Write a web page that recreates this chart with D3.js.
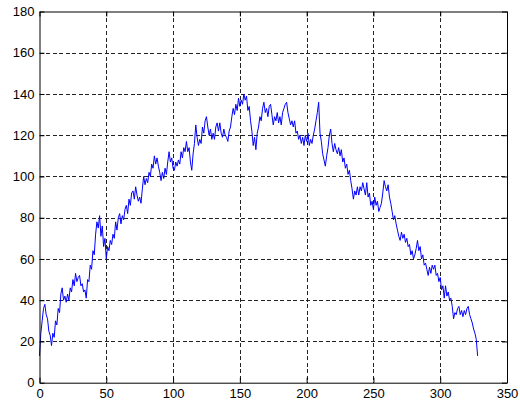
<!DOCTYPE html>
<html>
<head>
<meta charset="utf-8">
<script src="https://cdn.jsdelivr.net/npm/d3@7"></script>
<style>
  html, body { margin: 0; padding: 0; background: #ffffff; }
  svg { display: block; }
  text { font-family: "Liberation Sans", Arial, sans-serif; }
</style>
</head>
<body>
<svg id="chart" width="520" height="406"></svg>
<script>
// ---- data ----
const xStart = 0;
const yValues = [
  13, 24, 30, 36, 38, 33, 31, 25, 23, 18,
  24, 22, 30, 28, 36, 34, 43, 46, 40, 42,
  39, 43, 40, 46, 44, 50, 47, 53, 49, 51,
  52, 47, 48, 44, 45, 41, 50, 49, 57, 55,
  64, 62, 72, 78, 75, 81, 71, 76, 66, 70,
  60, 66, 64, 69, 67, 72, 70, 78, 74, 80,
  82, 77, 81, 79, 84, 86, 82, 89, 86, 92,
  93, 89, 95, 91, 88, 90, 87, 94, 100, 96,
  99, 97, 102, 100, 106, 104, 110, 106, 109, 105,
  102, 98, 102, 99, 104, 101, 107, 112, 107, 109,
  104, 103, 107, 105, 108, 106, 112, 109, 114, 112,
  117, 112, 114, 107, 103, 111, 116, 125, 119, 115,
  118, 116, 124, 121, 127, 129, 124, 120, 123, 118,
  121, 118, 124, 126, 122, 126, 121, 119, 123, 120,
  119, 117, 122, 124, 129, 133, 130, 135, 132, 138,
  134, 137, 135, 140, 137, 139, 132, 134, 127, 122,
  115, 119, 113, 121, 124, 129, 127, 133, 136, 131,
  133, 129, 134, 135, 130, 125, 129, 127, 131, 126,
  129, 125, 131, 133, 135, 136, 131, 128, 125, 127,
  124, 127, 121, 122, 118, 120, 116, 119, 115, 120,
  117, 121, 115, 118, 116, 120, 123, 127, 131, 136,
  121, 117, 111, 108, 105, 110, 114, 120, 123, 116,
  112, 116, 113, 111, 114, 110, 113, 107, 109, 104,
  106, 101, 103, 98, 94, 89, 93, 91, 95, 91,
  95, 93, 97, 94, 91, 97, 90, 92, 86, 88,
  84, 90, 86, 88, 83, 85, 87, 92, 98, 95,
  93, 96, 90, 87, 83, 79, 81, 77, 74, 71,
  69, 73, 70, 72, 68, 70, 66, 67, 62, 64,
  60, 62, 65, 69, 64, 66, 60, 62, 57, 58,
  55, 52, 56, 53, 57, 55, 57, 52, 53, 49,
  51, 45, 47, 41, 47, 42, 44, 40, 41, 37,
  31, 34, 33, 36, 37, 33, 35, 32, 35, 33,
  36, 37, 33, 31, 29, 26, 24, 21, 13
];
const xTicks = [0, 50, 100, 150, 200, 250, 300, 350];
const yTicks = [0, 20, 40, 60, 80, 100, 120, 140, 160, 180];
const xDomain = [0, 350];
const yDomain = [0, 180];

(function () {
  // ---- layout ----
  const pLeft = 39.5, pRight = 507, pTop = 11.5, pBottom = 382.7;
  const svg = d3.select("#chart");

  const x = d3.scaleLinear().domain(xDomain).range([pLeft, pRight]);
  const y = d3.scaleLinear().domain(yDomain).range([pBottom, pTop]);

  // grid
  const grid = svg.append("g").attr("stroke", "#222").attr("stroke-width", 1)
    .attr("stroke-dasharray", "4,2.5").attr("shape-rendering", "crispEdges");
  grid.selectAll("line.v").data(xTicks.filter(d => d > xDomain[0] && d < xDomain[1]))
    .join("line").attr("class", "v")
    .attr("x1", d => Math.round(x(d)) + 0.5).attr("x2", d => Math.round(x(d)) + 0.5)
    .attr("y1", pTop).attr("y2", pBottom);
  grid.selectAll("line.h").data(yTicks.filter(d => d > yDomain[0] && d < yDomain[1]))
    .join("line").attr("class", "h")
    .attr("y1", d => Math.round(y(d)) + 0.5).attr("y2", d => Math.round(y(d)) + 0.5)
    .attr("x1", pLeft).attr("x2", pRight);

  // line
  const line = d3.line().x((d, i) => x(xStart + i)).y(d => y(d));
  svg.append("path").datum(yValues)
    .attr("fill", "none").attr("stroke", "#0000ff").attr("stroke-width", 1)
    .attr("d", line);

  // axes
  function styleAxis(g) {
    g.selectAll("path.domain").attr("stroke", "#000");
    g.selectAll(".tick line").attr("stroke", "#000");
    g.selectAll("text").attr("fill", "#000").style("font-size", "13px")
      .style("font-family", "'Liberation Sans', Arial, sans-serif");
  }
  svg.append("g").attr("transform", `translate(0,${pBottom})`)
    .call(d3.axisBottom(x).tickValues(xTicks).tickFormat(d3.format("d"))
      .tickSizeInner(-5).tickSizeOuter(0).tickPadding(6))
    .call(styleAxis);
  svg.append("g").attr("transform", `translate(${pLeft},0)`)
    .call(d3.axisLeft(y).tickValues(yTicks).tickFormat(d3.format("d"))
      .tickSizeInner(-5).tickSizeOuter(0).tickPadding(5))
    .call(styleAxis);
  svg.append("g").attr("transform", `translate(0,${pTop})`)
    .call(d3.axisTop(x).tickValues(xTicks).tickFormat("")
      .tickSizeInner(-5).tickSizeOuter(0))
    .call(styleAxis);
  svg.append("g").attr("transform", `translate(${pRight},0)`)
    .call(d3.axisRight(y).tickValues(yTicks).tickFormat("")
      .tickSizeInner(-5).tickSizeOuter(0))
    .call(styleAxis);
})();
</script>
</body>
</html>
